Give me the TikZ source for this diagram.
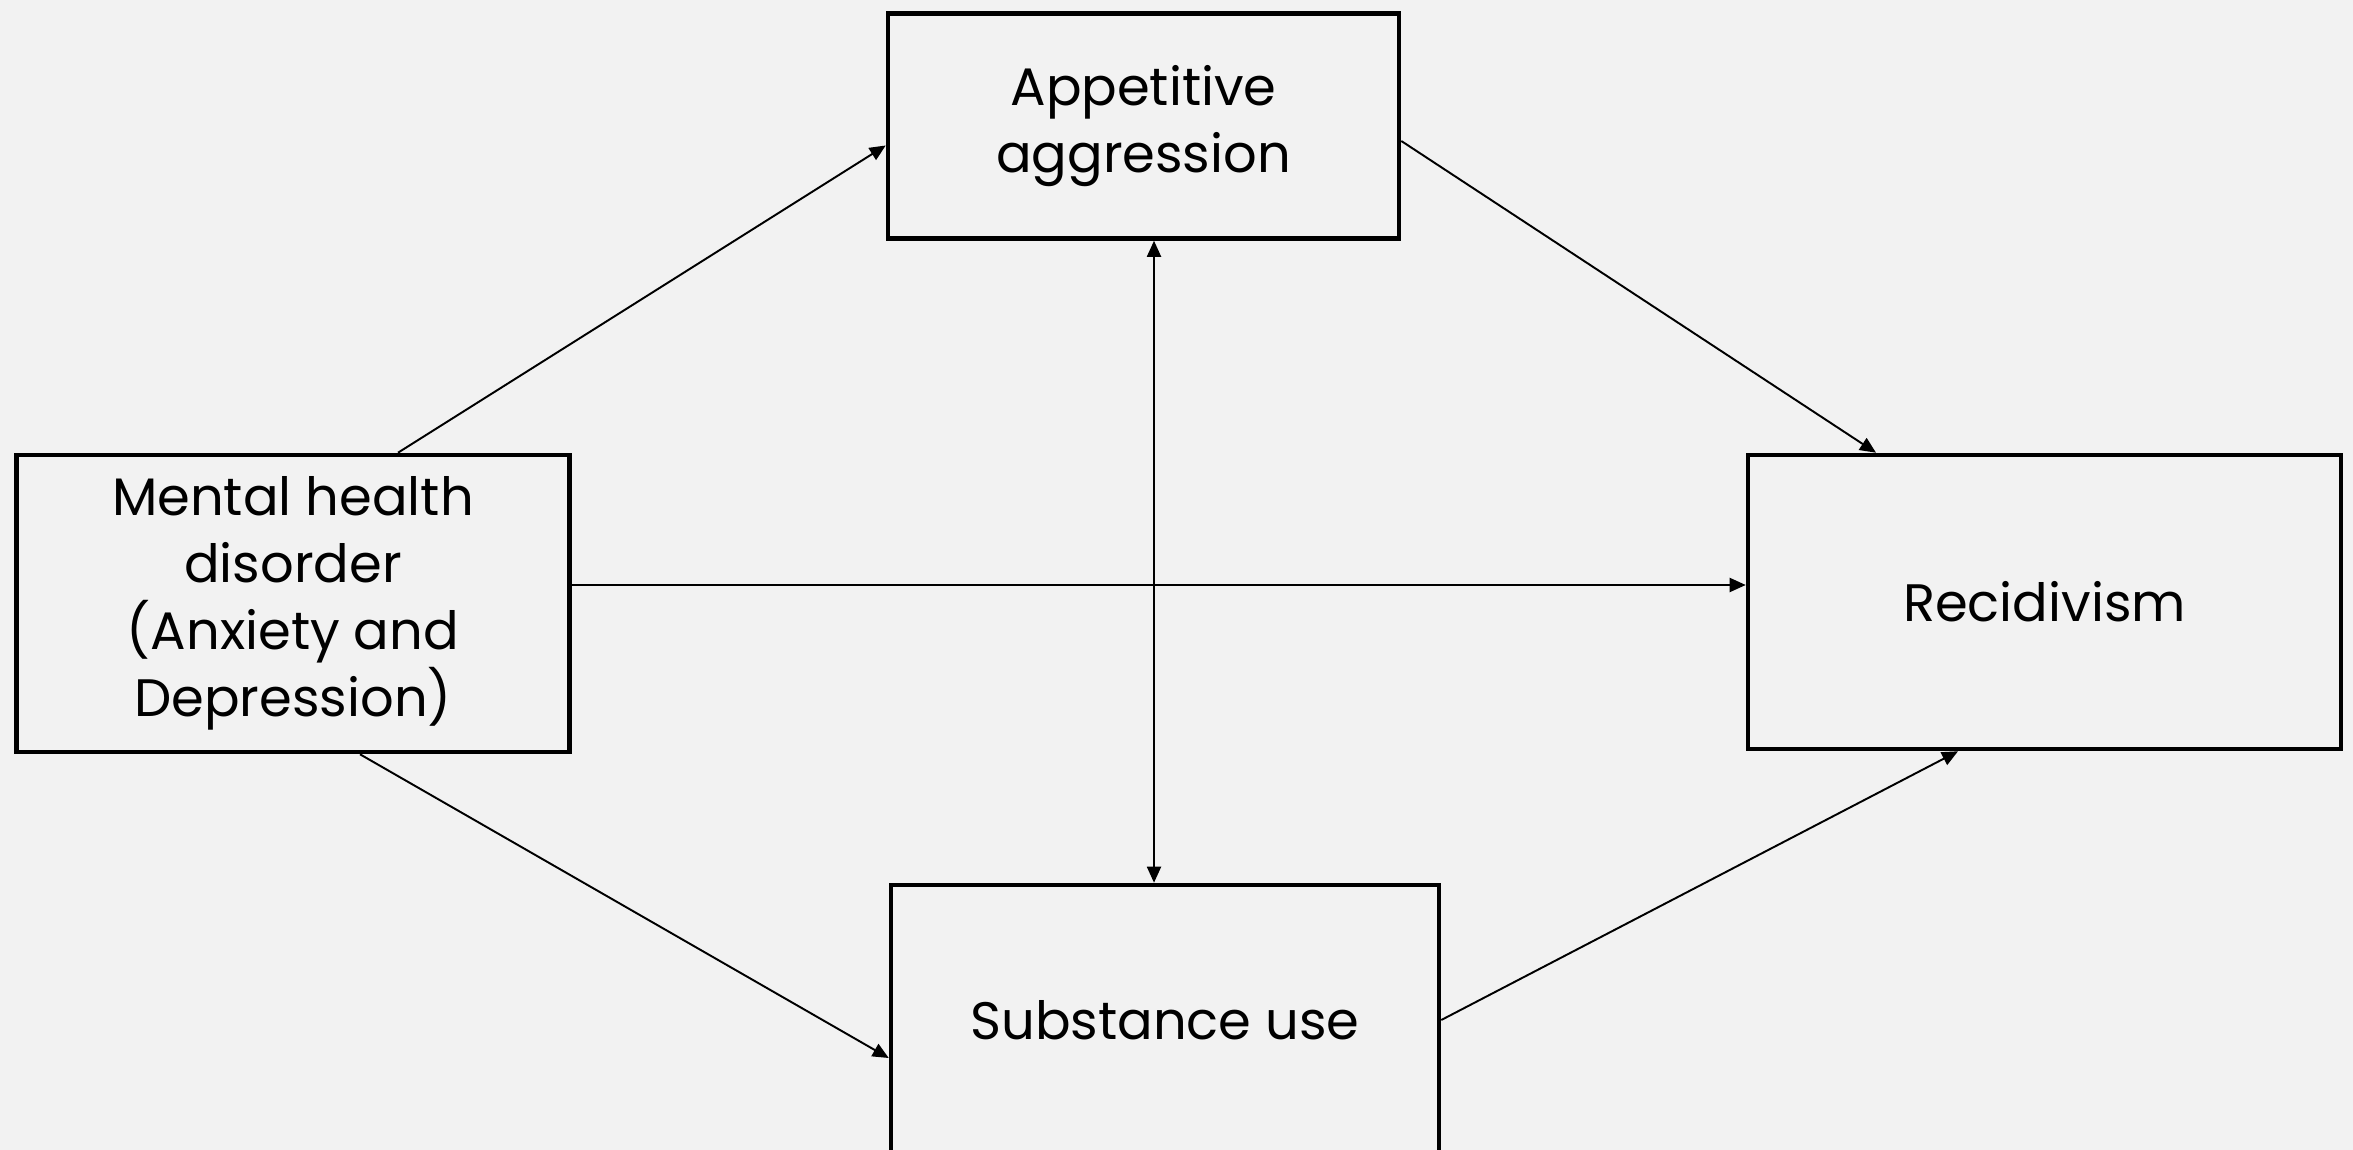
\documentclass[tikz,border=0pt]{standalone}
\usepackage{fontspec}
\setmainfont{Poppins}
\usetikzlibrary{arrows.meta}
\definecolor{bggray}{HTML}{F2F2F2}
\begin{document}
\begin{tikzpicture}[box/.style={rectangle, draw, line width=1.3pt, align=center, font=\fontsize{15}{19}\selectfont},
  arr/.style={-{Triangle[length=0.16cm, width=0.14cm]}, line width=0.55pt},
  biarr/.style={{Triangle[length=0.16cm, width=0.14cm]}-{Triangle[length=0.16cm, width=0.14cm]}, line width=0.55pt}]
\fill[bggray] (0,0) rectangle (23.53,-11.5);
\useasboundingbox (0,0) rectangle (23.53,-11.5);
\node (app) [box, minimum width=5.11cm, minimum height=2.25cm] at (11.435,-1.26) {Appetitive\\aggression};
\node (mental) [box, minimum width=5.525cm, minimum height=2.97cm] at (2.93,-6.035) {Mental health\\disorder\\(Anxiety and\\Depression)};
\node (recid) [box, minimum width=5.93cm, minimum height=2.94cm] at (20.445,-6.02) {Recidivism};
\node (subst) [box, minimum width=5.48cm, minimum height=2.7cm] at (11.65,-10.2) {Substance use};
\draw[arr] ([xshift=1.05cm]mental.north) -- ([yshift=-0.195cm]app.west);
\draw[arr] ([yshift=-0.15cm]app.east) -- ([xshift=-1.685cm]recid.north);
\draw[arr] ([yshift=0.185cm]mental.east) -- ([yshift=0.17cm]recid.west);
\draw[biarr] ([xshift=0.105cm]app.south) -- ([xshift=0.105cm]app.south |- subst.north);
\draw[arr] ([xshift=0.67cm]mental.south) -- ([yshift=-0.38cm]subst.west);
\draw[arr] (subst.east) -- ([xshift=-0.865cm]recid.south);
\end{tikzpicture}
\end{document}
